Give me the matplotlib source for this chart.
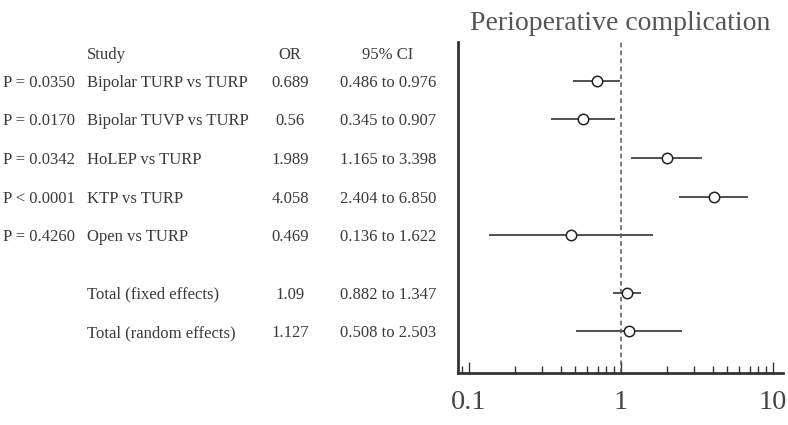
import numpy as np
import matplotlib
matplotlib.use('Agg')
import matplotlib.pyplot as plt
from matplotlib.transforms import blended_transform_factory
from matplotlib.ticker import LogLocator, NullFormatter, FixedLocator, FixedFormatter

# Data
p_values = ['P = 0.0350', 'P = 0.0170', 'P = 0.0342', 'P < 0.0001', 'P = 0.4260', '', '']
studies = ['Bipolar TURP vs TURP', 'Bipolar TUVP vs TURP', 'HoLEP vs TURP', 'KTP vs TURP',
           'Open vs TURP', 'Total (fixed effects)', 'Total (random effects)']
odds_ratio = [0.689, 0.56, 1.989, 4.058, 0.469, 1.09, 1.127]
or_labels = ['0.689', '0.56', '1.989', '4.058', '0.469', '1.09', '1.127']
ci_low = [0.486, 0.345, 1.165, 2.404, 0.136, 0.882, 0.508]
ci_high = [0.976, 0.907, 3.398, 6.850, 1.622, 1.347, 2.503]
ci_labels = ['0.486 to 0.976', '0.345 to 0.907', '1.165 to 3.398', '2.404 to 6.850',
             '0.136 to 1.622', '0.882 to 1.347', '0.508 to 2.503']

# row positions (summary rows sit a bit lower)
rows = np.array([0, 1, 2, 3, 4, 5.5, 6.5])

plt.rcParams['font.family'] = ['Liberation Serif', 'DejaVu Serif']
text_col = '#3a3a3a'

W, H = 788, 425
fig = plt.figure(figsize=(W / 100, H / 100), dpi=100)
ax = fig.add_axes([457.5 / W, (H - 373) / H, (783 - 457.5) / W, (373 - 42) / H])

# confidence intervals and point estimates
ax.hlines(rows, ci_low, ci_high, color='#333333', linewidth=1.2)
ax.plot(odds_ratio, rows, 'o', markersize=7.5, markerfacecolor='white',
        markeredgecolor='#222222', markeredgewidth=1.1, zorder=3)
ax.axvline(1, color='#555555', linestyle=(0, (3, 2.2)), linewidth=1.1)

ax.set_xscale('log')
ax.set_xlim(0.084, 11.6)
ax.set_ylim(7.58, -1.01)

for side in ['top', 'right']:
    ax.spines[side].set_visible(False)
for side in ['left', 'bottom']:
    ax.spines[side].set_linewidth(2)
    ax.spines[side].set_color('#333333')

ax.set_yticks([])
ax.xaxis.set_major_locator(FixedLocator([0.1, 1, 10]))
ax.xaxis.set_major_formatter(FixedFormatter(['0.1', '1', '10']))
ax.xaxis.set_minor_locator(LogLocator(base=10, subs=np.arange(2, 10)))
ax.xaxis.set_minor_formatter(NullFormatter())
ax.tick_params(axis='x', which='major', direction='in', length=8, width=1,
               color='#333333', labelsize=20.5, labelcolor='#444444', pad=12)
ax.tick_params(axis='x', which='minor', direction='in', length=5, width=1, color='#333333')

ax.set_title('Perioperative complication', fontsize=20, color='#555555', pad=9)

# table on the left
tr = blended_transform_factory(fig.transFigure, ax.transData)
fs = 12
x_p, x_study, x_or, x_ci = 3 / W, 87 / W, 290 / W, 388 / W
va = 'center_baseline'
ax.text(x_study, -0.72, 'Study', transform=tr, fontsize=fs, color=text_col, va=va)
ax.text(x_or, -0.72, 'OR', transform=tr, fontsize=fs, color=text_col, va=va, ha='center')
ax.text(x_ci, -0.72, '95% CI', transform=tr, fontsize=fs, color=text_col, va=va, ha='center')
for i, y in enumerate(rows):
    ax.text(x_p, y, p_values[i], transform=tr, fontsize=fs, color=text_col, va=va)
    ax.text(x_study, y, studies[i], transform=tr, fontsize=fs, color=text_col, va=va)
    ax.text(x_or, y, or_labels[i], transform=tr, fontsize=fs, color=text_col, va=va, ha='center')
    ax.text(x_ci, y, ci_labels[i], transform=tr, fontsize=fs, color=text_col, va=va, ha='center')

fig.savefig('out.png', dpi=100)
